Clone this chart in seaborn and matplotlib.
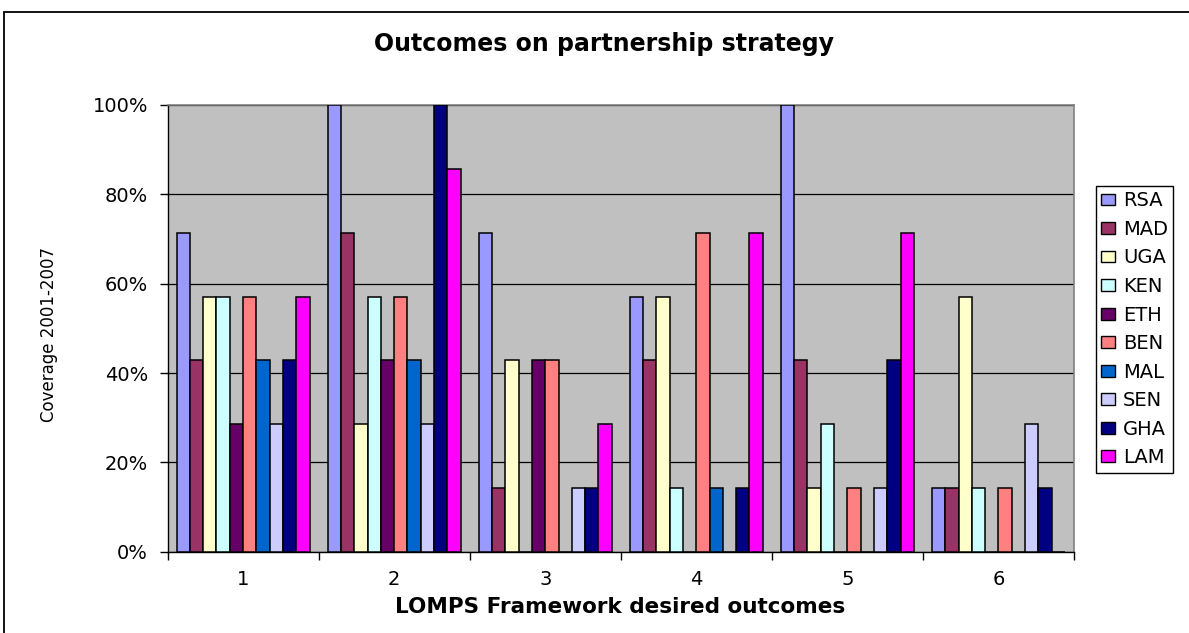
import matplotlib
matplotlib.use("Agg")
import matplotlib.pyplot as plt
import seaborn as sns
import pandas as pd
from matplotlib.ticker import PercentFormatter, FixedLocator
from matplotlib.patches import Rectangle

# ---- data ----
outcomes = ["1", "2", "3", "4", "5", "6"]
countries = ["RSA", "MAD", "UGA", "KEN", "ETH", "BEN", "MAL", "SEN", "GHA", "LAM"]
RSA = [71.4, 100.0, 71.4, 57.1, 100.0, 14.3]
MAD = [42.9, 71.4, 14.3, 42.9, 42.9, 14.3]
UGA = [57.1, 28.6, 42.9, 57.1, 14.3, 57.1]
KEN = [57.1, 57.1, 0.0, 14.3, 28.6, 14.3]
ETH = [28.6, 42.9, 42.9, 0.0, 0.0, 0.0]
BEN = [57.1, 57.1, 42.9, 71.4, 14.3, 14.3]
MAL = [42.9, 42.9, 0.0, 14.3, 0.0, 0.0]
SEN = [28.6, 28.6, 14.3, 0.0, 14.3, 28.6]
GHA = [42.9, 100.0, 14.3, 14.3, 42.9, 14.3]
LAM = [57.1, 85.7, 28.6, 71.4, 71.4, 0.0]
series = [RSA, MAD, UGA, KEN, ETH, BEN, MAL, SEN, GHA, LAM]
colors = ["#9999FF", "#993366", "#FFFFCC", "#CCFFFF", "#660066",
          "#FF8080", "#0066CC", "#CCCCFF", "#000080", "#FF00FF"]

rows = []
for c, vals in zip(countries, series):
    for o, v in zip(outcomes, vals):
        rows.append({"outcome": o, "country": c, "value": v})
df = pd.DataFrame(rows)

# ---- style ----
sns.set_theme(style="white")
plt.rcParams["font.family"] = ["DejaVu Sans"]
plt.rcParams["text.color"] = "black"
plt.rcParams["xtick.color"] = "black"
plt.rcParams["ytick.color"] = "black"
plt.rcParams["axes.labelcolor"] = "black"

W, H = 1189, 633
fig = plt.figure(figsize=(W / 100, H / 100), dpi=100)
ax = fig.add_axes([167.5 / W, 1 - 551.7 / H, 906.5 / W, (551.7 - 105) / H])
ax.set_facecolor("#C0C0C0")

sns.barplot(data=df, x="outcome", y="value", hue="country",
            order=outcomes, hue_order=countries, palette=colors,
            width=0.88, edgecolor="black", linewidth=1.1, saturation=1,
            ax=ax, zorder=3)

ax.set_xlim(-0.5, 5.5)
ax.set_ylim(0, 100)
ax.yaxis.set_major_locator(FixedLocator([0, 20, 40, 60, 80, 100]))
ax.yaxis.set_major_formatter(PercentFormatter(decimals=0))
ax.grid(axis="y", color="black", linewidth=0.9, zorder=0)
ax.set_axisbelow(True)

for s in ["left", "bottom"]:
    ax.spines[s].set_color("black")
    ax.spines[s].set_linewidth(1.0)
for s in ["top", "right"]:
    ax.spines[s].set_color("#808080")
    ax.spines[s].set_linewidth(1.2)

ax.tick_params(axis="y", which="major", direction="out", length=6, width=1,
               color="black", labelcolor="black", pad=8, labelsize=14, left=True)
ax.tick_params(axis="x", which="major", length=0, pad=13, labelsize=14,
               labelcolor="black")
ax.xaxis.set_minor_locator(FixedLocator([-0.5, 0.5, 1.5, 2.5, 3.5, 4.5, 5.5]))
ax.tick_params(axis="x", which="minor", direction="out", length=6, width=1,
               color="black", bottom=True)

ax.set_xlabel("")
ax.set_ylabel("")
fig.text(620 / W, 1 - 607 / H, "LOMPS Framework desired outcomes",
         ha="center", va="center", fontsize=15.5, fontweight="bold", color="black")
fig.text(49 / W, 1 - 335 / H, "Coverage 2001-2007", rotation=90,
         ha="center", va="center", fontsize=12, color="black")
fig.text(604 / W, 1 - 44 / H, "Outcomes on partnership strategy",
         ha="center", va="center", fontsize=17, fontweight="bold", color="black")

# legend
handles, labels = ax.get_legend_handles_labels()
if ax.get_legend() is not None:
    ax.get_legend().remove()
leg = fig.legend(handles, labels, loc="upper left",
                 bbox_to_anchor=(1096 / W, 1 - 186 / H),
                 bbox_transform=fig.transFigure, borderaxespad=0,
                 frameon=True, fancybox=False, edgecolor="black",
                 facecolor="white", framealpha=1, fontsize=14,
                 handlelength=0.7, handleheight=0.55, handletextpad=0.4,
                 labelspacing=0.49, borderpad=0.28)
leg.get_frame().set_linewidth(1.0)
for t in leg.get_texts():
    t.set_color("black")
for h in leg.legend_handles:
    h.set_edgecolor("black")
    h.set_linewidth(1.0)

# outer chart border
fig.patches.append(Rectangle((4 / W, -0.05), 1.2, 1 - 12 / H + 0.05,
                             transform=fig.transFigure, fill=False,
                             edgecolor="black", linewidth=1.3, clip_on=False))

fig.savefig("out.png", dpi=100)
